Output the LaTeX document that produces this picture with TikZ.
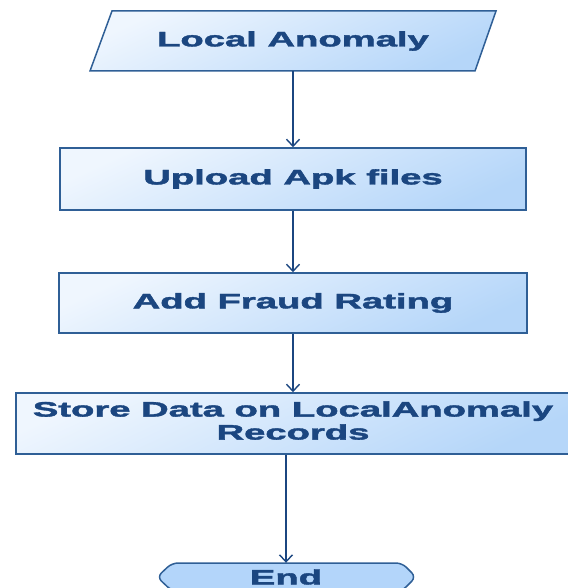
\documentclass[tikz,border=0pt]{standalone}
\usepackage{fontspec}
\setmainfont{Liberation Sans}[BoldFeatures={FakeBold=1.6}]
\usetikzlibrary{arrows.meta,calc}
\definecolor{edge}{HTML}{2F5F96}
\definecolor{ink}{HTML}{1B4680}
\definecolor{lite}{HTML}{EFF6FE}
\definecolor{deep}{HTML}{B5D6F9}
\definecolor{endfill}{HTML}{B3D5FA}
\newcommand{\wtxt}[1]{\scalebox{1.82}[1]{#1}}
\tikzset{
  boxfill/.style={shading=axis, top color=lite, bottom color=deep, shading angle=25},
  stepbox/.style={rectangle, draw=edge, line width=1.5pt, boxfill, inner sep=0pt,
     font=\fontsize{21}{23}\selectfont\bfseries, text=ink, align=center},
  lbl/.style={inner sep=0pt, font=\fontsize{21}{23}\selectfont\bfseries, text=ink, align=center},
  arr/.style={draw=ink, line width=1.9pt, -{Straight Barb[length=7pt,width=13pt,line width=1.4pt]}}
}
\begin{document}
\begin{tikzpicture}[x=1pt,y=-1pt]
\useasboundingbox (0,0) rectangle (567,588);
% parallelogram
\draw[edge, line width=1.5pt, boxfill] (112,11) -- (496,11) -- (475,71) -- (90,71) -- cycle;
\node[lbl, minimum width=385pt, minimum height=60pt] (a) at (293,41) {\wtxt{Local Anomaly}};
\node[stepbox, minimum width=466pt, minimum height=62pt] (b) at (293,179) {\wtxt{Upload Apk files}};
\node[stepbox, minimum width=468pt, minimum height=60pt] (c) at (293,303) {\wtxt{Add Fraud Rating}};
\node[stepbox, minimum width=554pt, minimum height=61pt] (d) at (293,423.5) {\wtxt{\begin{tabular}{@{}c@{}}Store Data on LocalAnomaly\\Records\end{tabular}}};
% terminator
\draw[edge, line width=1.5pt, fill=endfill, rounded corners=6pt] (172,563) -- (402,563) -- (416,577) -- (402,591) -- (172,591) -- (157,577) -- cycle;
\node[lbl, minimum width=258pt, minimum height=28pt] (e) at (286,577) {\wtxt{End}};
% connectors
\draw[arr] (a.south) -- (b.north);
\draw[arr] (b.south) -- (c.north);
\draw[arr] (c.south) -- (d.north);
\draw[arr] (d.south -| e.north) -- (e.north);
\end{tikzpicture}
\end{document}
